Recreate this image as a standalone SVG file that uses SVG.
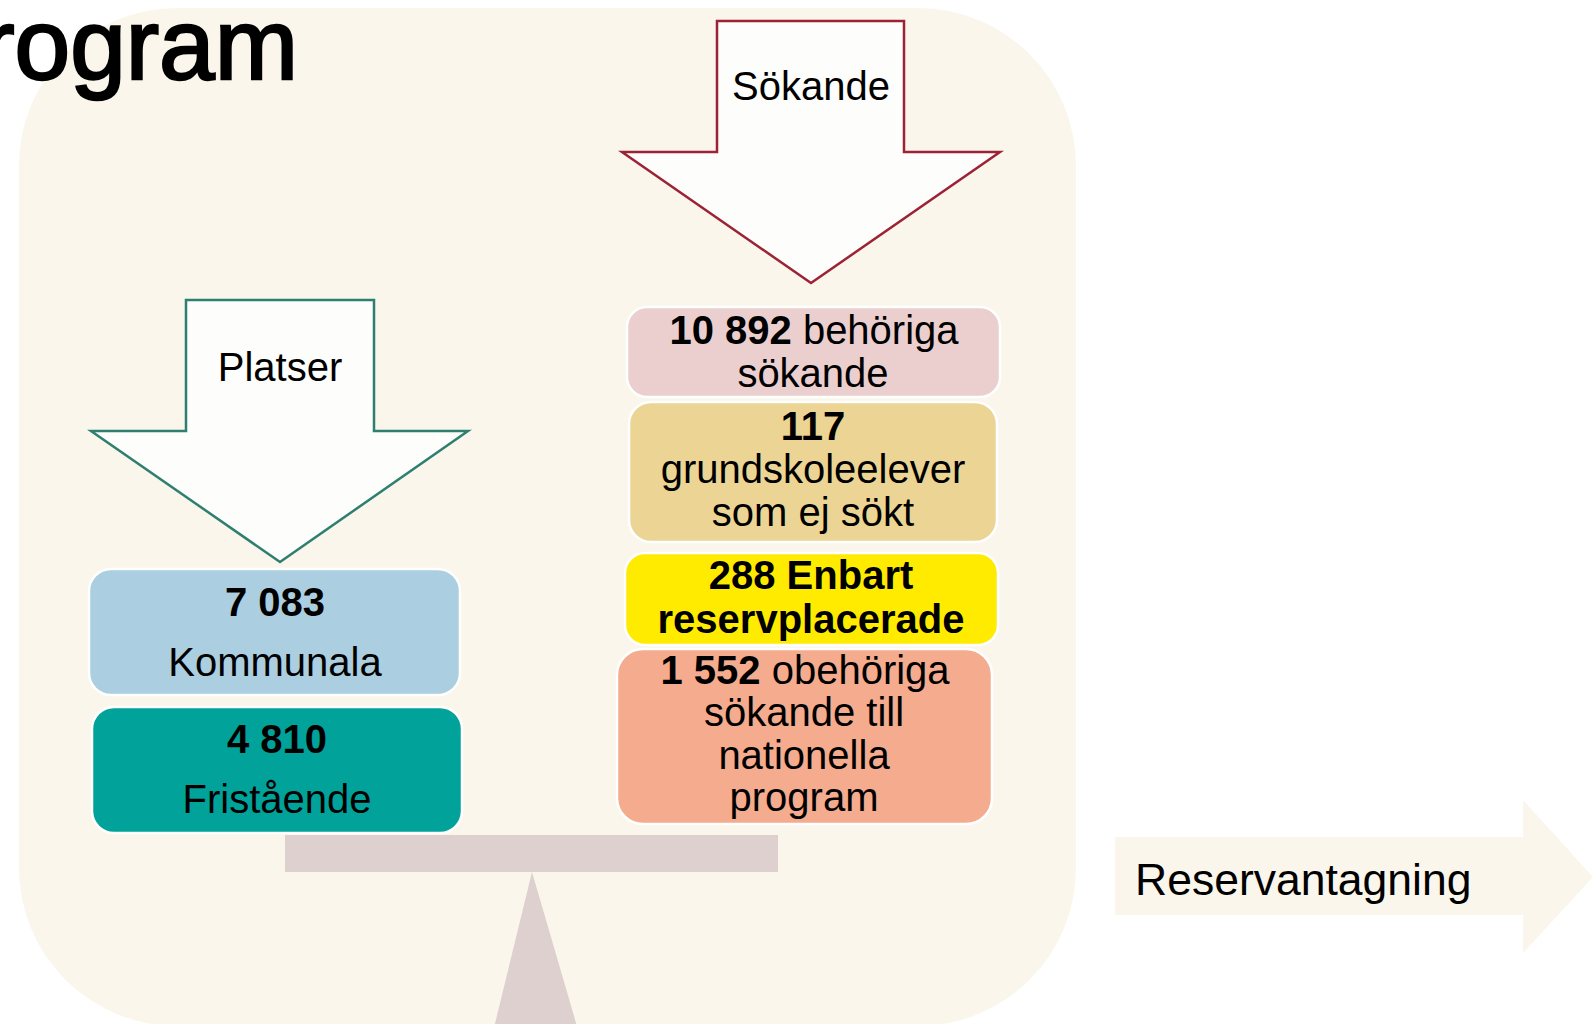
<svg xmlns="http://www.w3.org/2000/svg" width="1593" height="1024" viewBox="0 0 1593 1024">
<style>
text{font-family:"Liberation Sans",Arial,sans-serif;fill:#000;}
.t{font-size:40px;text-anchor:middle;}
.b{font-weight:bold;}
.box{stroke:#fff;stroke-width:2.5;}
.arr{fill:#FDFDFB;stroke-width:2.5;stroke-linejoin:miter;}
</style>
<rect x="0" y="0" width="1593" height="1024" fill="#fff"/>
<g id="background">
<rect x="19" y="8" width="1057" height="1018" rx="158" ry="158" fill="#FAF6EB"/>
</g>
<g id="title">
<text x="298" y="79" font-size="100" text-anchor="end" stroke="#000" stroke-width="2.5">rogram</text>
</g>
<g id="connectors">
<g id="sokande-arrow">
<polygon class="arr" stroke="#9B2335" points="717,21 904,21 904,152 1000,152 811,283 622,152 717,152"/>
<text class="t" x="811" y="100">Sökande</text>
</g>
<g id="platser-arrow">
<polygon class="arr" stroke="#2E7F70" points="186,300 374,300 374,431 468,431 280,562 91,431 186,431"/>
<text class="t" x="280" y="381">Platser</text>
</g>
<g id="reservantagning-arrow">
<polygon fill="#FAF6EB" points="1115,837 1523,837 1523,800 1593,877 1523,953 1523,915 1115,915"/>
<text x="1135" y="895" font-size="44.5">Reservantagning</text>
</g>
</g>
<g id="kommunala">
<rect class="box" x="89" y="569" width="371" height="126" rx="22" fill="#ABCFE0"/>
<text class="t b" x="275" y="616" font-size="45">7 083</text>
<text class="t" x="275" y="676">Kommunala</text>
</g>
<g id="fristaende">
<rect class="box" x="92" y="707" width="370" height="126" rx="22" fill="#00A29A"/>
<text class="t b" x="277" y="753" font-size="45">4 810</text>
<text class="t" x="277" y="813">Fristående</text>
</g>
<g id="behoriga">
<rect class="box" x="627" y="307" width="373" height="90" rx="20" fill="#EBCFCF"/>
<text class="t" x="814" y="344" font-size="41"><tspan class="b">10 892</tspan> behöriga</text>
<text class="t" x="813" y="387">sökande</text>
</g>
<g id="grundskoleelever">
<rect class="box" x="629" y="402" width="368" height="140" rx="22" fill="#ECD594"/>
<text class="t b" x="813" y="440">117</text>
<text class="t" x="813" y="483">grundskoleelever</text>
<text class="t" x="813" y="526">som ej sökt</text>
</g>
<g id="reservplacerade">
<rect class="box" x="625" y="553" width="373" height="92" rx="20" fill="#FFEB00"/>
<text class="t b" x="811" y="589" font-size="38.5">288 Enbart</text>
<text class="t b" x="811" y="633" font-size="37">reservplacerade</text>
</g>
<g id="obehoriga">
<rect class="box" x="617" y="649" width="375" height="175" rx="26" fill="#F5AB8D"/>
<text class="t" x="805" y="684" font-size="41"><tspan class="b">1 552</tspan> obehöriga</text>
<text class="t" x="804" y="726">sökande till</text>
<text class="t" x="804" y="769">nationella</text>
<text class="t" x="804" y="811">program</text>
</g>
<g id="seesaw">
<rect x="285" y="835" width="493" height="37" fill="#DDD0CF"/>
<polygon points="532,872 491,1040 581,1040" fill="#DDD0CF"/>
</g>
</svg>
